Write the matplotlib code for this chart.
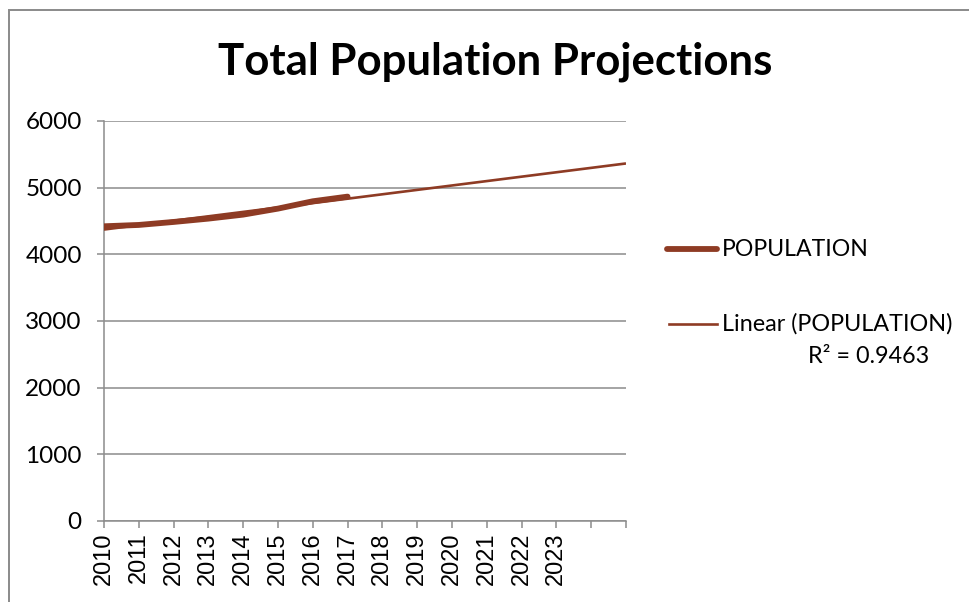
import matplotlib
matplotlib.use("Agg")
import matplotlib.pyplot as plt
from matplotlib.lines import Line2D
from matplotlib.patches import Rectangle
import numpy as np

# Population counts by year, plus the categories on the axis
years = list(range(2010, 2026))
year_labels = [str(y) for y in range(2010, 2024)] + ["", ""]
pop_years = list(range(2010, 2018))
population = [4420, 4440, 4485, 4535, 4595, 4685, 4795, 4865]
r2_text = "R\u00b2 = 0.9463"

line_color = "#8E3B24"
grid_color = "#8C8C8C"

fig = plt.figure(figsize=(9.69, 6.02), dpi=100)
ax = fig.add_axes([0.1073, 0.1346, 0.5387, 0.6645])

# positions of the categories along the axis
pos = {y: i for i, y in enumerate(years)}
px = np.array([pos[y] for y in pop_years])

# least-squares trend, carried out to the last category
slope, intercept = np.polyfit(px, population, 1)
tx = np.array([0, len(years) - 1])
ax.plot(tx, slope * tx + intercept, color=line_color, lw=1.9, solid_capstyle="butt", zorder=3)
ax.plot(px, population, color=line_color, lw=4.2, solid_capstyle="round", zorder=4)

ax.set_xlim(0, len(years) - 1)
ax.set_ylim(0, 6000)
ax.set_yticks(range(0, 6001, 1000))
ax.set_xticks(range(len(years)))
ax.set_xticklabels(year_labels, rotation=90, family="Liberation Sans", fontsize=17)
for lab in ax.get_yticklabels():
    lab.set_family("Lato")
    lab.set_fontsize(17.5)

ax.grid(axis="y", color=grid_color, lw=1.1)
ax.set_axisbelow(True)
for side in ["top", "right"]:
    ax.spines[side].set_visible(False)
for side in ["left", "bottom"]:
    ax.spines[side].set_color(grid_color)
    ax.spines[side].set_linewidth(1.1)
ax.tick_params(axis="y", length=5, width=1.1, color=grid_color, pad=11)
ax.tick_params(axis="x", length=5, width=1.1, color=grid_color, pad=3)

fig.text(0.511, 0.898, "Total Population Projections", ha="center", va="center",
         family="Lato", fontweight="bold", fontsize=31.5)

# legend drawn by hand
fig.add_artist(Line2D([0.688, 0.740], [0.586, 0.586], color=line_color, lw=4.2,
                      solid_capstyle="round", transform=fig.transFigure))
fig.text(0.745, 0.586, "POPULATION", va="center", family="Lato", fontsize=16.6)
fig.add_artist(Line2D([0.690, 0.740], [0.462, 0.462], color=line_color, lw=1.9,
                      transform=fig.transFigure))
fig.text(0.745, 0.462, "Linear (POPULATION)", va="center", family="Lato", fontsize=16.8)
fig.text(0.834, 0.407, r2_text, va="center", family="Lato", fontsize=16.8)

# chart frame and the clipped heading above it
fig.add_artist(Rectangle((0.0098, -0.05), 1.05, 1.0334, fill=False,
                         edgecolor="#8A8A8A", lw=1.4, transform=fig.transFigure))
fig.text(0.068, 1.006, "y", color="#B03A2E", family="Lato", fontsize=18, va="baseline")

fig.savefig("out.png", dpi=100)
